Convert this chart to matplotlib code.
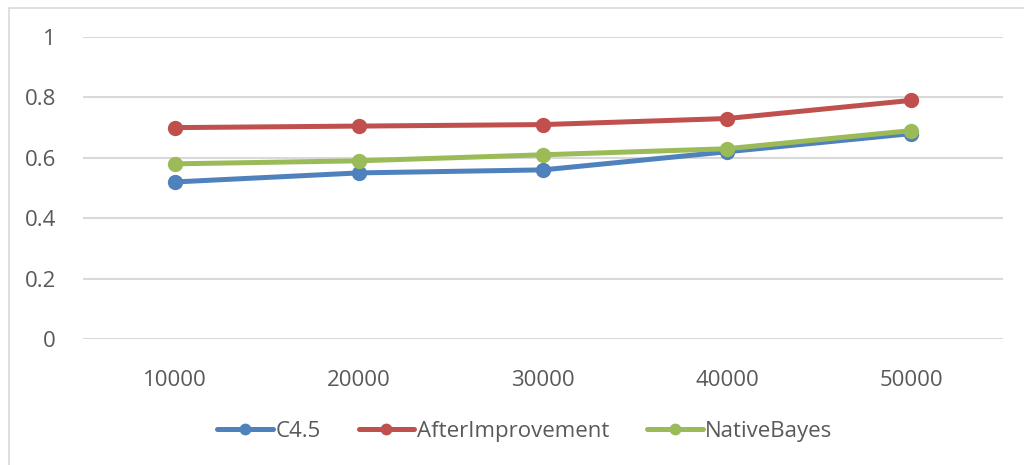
import matplotlib
matplotlib.use("Agg")
import matplotlib.pyplot as plt
from matplotlib.patches import Rectangle

plt.rcParams["font.family"] = ["Open Sans", "DejaVu Sans"]

sample_sizes = ["10000", "20000", "30000", "40000", "50000"]
c45 = [0.52, 0.55, 0.56, 0.62, 0.68]
after_improvement = [0.70, 0.705, 0.71, 0.73, 0.79]
native_bayes = [0.58, 0.59, 0.61, 0.63, 0.69]
y_ticks = [0, 0.2, 0.4, 0.6, 0.8, 1]
y_tick_labels = ["0", "0.2", "0.4", "0.6", "0.8", "1"]

series = [
    ("C4.5", c45, "#4F81BD"),
    ("AfterImprovement", after_improvement, "#C0504D"),
    ("NativeBayes", native_bayes, "#9BBB59"),
]

W, H = 1024, 465
fig = plt.figure(figsize=(W / 100, H / 100), dpi=100)
fig.patch.set_facecolor("white")

# chart-area frame (runs off the right and bottom edges)
fig.patches.append(Rectangle((9 / W, -0.1), 1.2, 1 - 8 / H + 0.1,
                             transform=fig.transFigure, fill=False,
                             edgecolor="#D9D9D9", linewidth=1.2))

ax = fig.add_axes([83 / W, 1 - 339 / H, 920 / W, 302 / H])
x = list(range(len(sample_sizes)))
for name, vals, color in series:
    ax.plot(x, vals, color=color, linewidth=3.6, marker="o", markersize=10,
            solid_capstyle="round", label=name, zorder=3)

ax.set_xlim(-0.5, len(sample_sizes) - 0.5)
ax.set_ylim(0, 1)
ax.set_yticks(y_ticks)
ax.set_yticklabels(y_tick_labels)
ax.set_xticks(x)
ax.set_xticklabels(sample_sizes)
ax.grid(axis="y", color="#D9D9D9", linewidth=1.5, zorder=0)
for s in ax.spines.values():
    s.set_visible(False)
ax.tick_params(axis="both", length=0, labelsize=16, colors="#595959")
ax.tick_params(axis="y", pad=19.5)
ax.tick_params(axis="x", pad=22)

fig.legend(loc="center", bbox_to_anchor=(525 / W, 1 - 431 / H), ncol=3,
           frameon=False, fontsize=16, labelcolor="#595959",
           handlelength=2.5, handletextpad=0.12, columnspacing=1.7,
           markerscale=0.75)

fig.savefig("out.png", dpi=100, facecolor="white")
